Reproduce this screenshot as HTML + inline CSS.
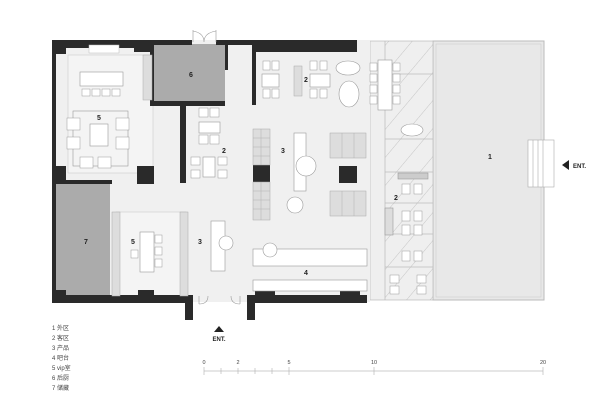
<!DOCTYPE html>
<html><head><meta charset="utf-8"><style>
body{margin:0;background:#fff;width:600px;height:403px;overflow:hidden}
svg{display:block}
text{font-family:"Liberation Sans","Noto Sans CJK SC",sans-serif}
</style></head><body>
<svg width="600" height="403" viewBox="0 0 600 403" xmlns="http://www.w3.org/2000/svg">
<defs>
<pattern id="h" width="18" height="18" patternUnits="userSpaceOnUse" patternTransform="rotate(40)">
<line x1="0" y1="0" x2="0" y2="18" stroke="#aaa" stroke-width="0.6"/></pattern>
</defs>
<rect x="433" y="41" width="111" height="259" fill="#e8e8e8" stroke="#bbb" stroke-width="1"/>
<rect x="436" y="44" width="105" height="253" fill="none" stroke="#ccc" stroke-width="0.6"/>
<rect x="370" y="41" width="63" height="259" fill="#efefef" stroke="#bbb" stroke-width="0.7"/>
<rect x="385" y="41" width="48" height="259" fill="url(#h)"/>
<line x1="385" y1="41" x2="385" y2="300" stroke="#bbb" stroke-width="0.7"/>
<g stroke="#bbb" stroke-width="0.7">
<line x1="385" y1="139" x2="433" y2="139"/><line x1="385" y1="172" x2="433" y2="172"/>
<line x1="385" y1="203" x2="433" y2="203"/><line x1="385" y1="234" x2="433" y2="234"/>
<line x1="385" y1="267" x2="433" y2="267"/><line x1="385" y1="74" x2="433" y2="74"/>
</g>
<rect x="52" y="40" width="318" height="262" fill="#f0f0f0"/>
<rect x="153" y="44" width="72" height="58" fill="#ababab"/>
<rect x="56" y="183" width="54" height="115" fill="#ababab"/>
<rect x="68" y="55" width="85" height="118" fill="#f4f4f4" stroke="#ccc" stroke-width="0.6"/>
<rect x="116" y="212" width="70" height="84" fill="#f4f4f4" stroke="#ccc" stroke-width="0.6"/>
<g fill="#2a2a2a">
<rect x="52" y="40" width="4" height="263"/>
<rect x="52" y="40" width="100" height="8"/>
<rect x="52" y="40" width="14" height="14"/>
<rect x="134" y="40" width="18" height="12"/>
<rect x="150" y="44" width="4" height="62"/>
<rect x="150" y="40" width="42" height="5"/>
<rect x="216" y="40" width="37" height="5"/>
<rect x="150" y="101" width="75" height="5"/>
<rect x="225" y="40" width="3" height="30"/>
<rect x="252" y="40" width="4" height="65"/>
<rect x="252" y="40" width="105" height="12"/>
<rect x="180" y="103" width="6" height="80"/>
<rect x="52" y="166" width="14" height="18"/>
<rect x="137" y="166" width="17" height="18"/>
<rect x="52" y="180" width="60" height="4"/>
<rect x="52" y="295" width="138" height="8"/>
<rect x="52" y="290" width="14" height="13"/>
<rect x="138" y="290" width="16" height="13"/>
<rect x="185" y="295" width="8" height="25"/>
<rect x="247" y="295" width="8" height="25"/>
<rect x="255" y="295" width="112" height="8"/>
<rect x="255" y="290" width="20" height="13"/>
<rect x="340" y="290" width="20" height="13"/>
<rect x="253" y="165" width="17" height="17"/>
<rect x="339" y="166" width="18" height="17"/>
</g>
<g fill="none" stroke="#999" stroke-width="0.6">
<path d="M193 42 L193 30 M216 42 L216 30 M193 31 Q204 33 204 42 M216 31 Q204 33 204 42"/>
<path d="M199 304 Q208 304 208 296 M240 304 Q231 304 231 296 M199 296 L199 304 M240 296 L240 304"/>
</g>
<rect x="89" y="45" width="30" height="8" fill="#fff" stroke="#bbb" stroke-width="0.5"/>
<g fill="#ddd" stroke="#aaa" stroke-width="0.5">
<rect x="253" y="129" width="17" height="36"/>
<rect x="253" y="182" width="17" height="38"/>
<rect x="180" y="212" width="8" height="84"/>
<rect x="112" y="212" width="8" height="84"/>
<rect x="143" y="55" width="9" height="45"/>
<rect x="330" y="133" width="36" height="25"/>
<rect x="330" y="191" width="36" height="25"/>
<rect x="294" y="66" width="8" height="30"/>
</g>
<g stroke="#aaa" stroke-width="0.4">
<line x1="261" y1="129" x2="261" y2="165"/><line x1="261" y1="182" x2="261" y2="220"/>
<line x1="253" y1="138" x2="270" y2="138"/><line x1="253" y1="147" x2="270" y2="147"/><line x1="253" y1="156" x2="270" y2="156"/>
<line x1="253" y1="191" x2="270" y2="191"/><line x1="253" y1="200" x2="270" y2="200"/><line x1="253" y1="209" x2="270" y2="209"/>
<line x1="342" y1="133" x2="342" y2="158"/><line x1="354" y1="133" x2="354" y2="158"/>
<line x1="342" y1="191" x2="342" y2="216"/><line x1="354" y1="191" x2="354" y2="216"/>
</g>
<g fill="#fff" stroke="#999" stroke-width="0.6">
<rect x="80" y="72" width="43" height="14"/>
<rect x="90" y="124" width="18" height="22"/>
<rect x="73" y="111" width="55" height="55" fill="none"/>
<rect x="294" y="133" width="12" height="58"/>
<circle cx="306" cy="166" r="10"/><circle cx="295" cy="205" r="8"/>
<rect x="211" y="221" width="14" height="50"/>
<circle cx="226" cy="243" r="7"/>
<rect x="253" y="249" width="114" height="17"/>
<circle cx="270" cy="250" r="7"/>
<rect x="253" y="280" width="114" height="11"/>
<rect x="140" y="232" width="14" height="40"/>
<rect x="199" y="122" width="21" height="11"/>
<rect x="203" y="157" width="12" height="20"/>
<rect x="262" y="74" width="17" height="13"/>
<rect x="310" y="74" width="20" height="13"/>
<ellipse cx="348" cy="68" rx="12" ry="7"/>
<ellipse cx="349" cy="94" rx="10" ry="13"/>
<rect x="378" y="60" width="14" height="50"/>
<rect x="398" y="173" width="30" height="6" fill="#ccc"/>
<rect x="385" y="208" width="8" height="27" fill="#ddd"/>
<ellipse cx="412" cy="130" rx="11" ry="6"/>
</g>
<g fill="#fff" stroke="#999" stroke-width="0.5">
<rect x="82" y="89" width="8" height="7"/><rect x="92" y="89" width="8" height="7"/><rect x="102" y="89" width="8" height="7"/><rect x="112" y="89" width="8" height="7"/>
<rect x="67" y="118" width="13" height="12"/><rect x="67" y="137" width="13" height="12"/><rect x="116" y="118" width="13" height="12"/><rect x="116" y="137" width="13" height="12"/>
<rect x="80" y="157" width="13" height="11"/><rect x="98" y="157" width="13" height="11"/>
<rect x="199" y="108" width="9" height="9"/><rect x="210" y="108" width="9" height="9"/><rect x="199" y="135" width="9" height="9"/><rect x="210" y="135" width="9" height="9"/>
<rect x="191" y="157" width="9" height="8"/><rect x="191" y="170" width="9" height="8"/><rect x="218" y="157" width="9" height="8"/><rect x="218" y="170" width="9" height="8"/>
<rect x="263" y="61" width="7" height="9"/><rect x="272" y="61" width="7" height="9"/><rect x="263" y="89" width="7" height="9"/><rect x="272" y="89" width="7" height="9"/>
<rect x="310" y="61" width="7" height="9"/><rect x="320" y="61" width="7" height="9"/><rect x="310" y="89" width="7" height="9"/><rect x="320" y="89" width="7" height="9"/>
<rect x="155" y="235" width="7" height="8"/><rect x="155" y="247" width="7" height="8"/><rect x="155" y="259" width="7" height="8"/><rect x="131" y="250" width="7" height="8"/>
<rect x="370" y="63" width="7" height="8"/><rect x="370" y="74" width="7" height="8"/><rect x="370" y="85" width="7" height="8"/><rect x="370" y="96" width="7" height="8"/>
<rect x="393" y="63" width="7" height="8"/><rect x="393" y="74" width="7" height="8"/><rect x="393" y="85" width="7" height="8"/><rect x="393" y="96" width="7" height="8"/>
<rect x="402" y="184" width="8" height="10"/><rect x="414" y="184" width="8" height="10"/>
<rect x="402" y="211" width="8" height="10"/><rect x="414" y="211" width="8" height="10"/><rect x="402" y="225" width="8" height="10"/><rect x="414" y="225" width="8" height="10"/>
<rect x="402" y="251" width="8" height="10"/><rect x="414" y="251" width="8" height="10"/>
<rect x="390" y="275" width="9" height="8"/><rect x="390" y="286" width="9" height="8"/><rect x="417" y="275" width="9" height="8"/><rect x="417" y="286" width="9" height="8"/>
</g>
<g fill="#fff" stroke="#aaa" stroke-width="0.6">
<rect x="528" y="140" width="26" height="47"/>
<line x1="533" y1="140" x2="533" y2="187"/><line x1="538" y1="140" x2="538" y2="187"/><line x1="543" y1="140" x2="543" y2="187"/>
</g>
<g font-size="7" font-weight="bold" fill="#222" text-anchor="middle">
<text x="191" y="77">6</text><text x="99" y="120">5</text><text x="306" y="82">2</text>
<text x="224" y="153">2</text><text x="283" y="153">3</text><text x="86" y="244">7</text>
<text x="133" y="244">5</text><text x="200" y="244">3</text><text x="306" y="275">4</text>
<text x="490" y="159">1</text><text x="396" y="200">2</text>
</g>
<polygon points="562,165 569,160 569,170" fill="#222"/>
<text x="573" y="168" font-size="6" font-weight="bold" fill="#222">ENT.</text>
<polygon points="219,326 224,332 214,332" fill="#222"/>
<text x="219" y="341" font-size="6" font-weight="bold" fill="#222" text-anchor="middle">ENT.</text>
<g font-size="6" fill="#444">
<text x="52" y="330">1 外区</text><text x="52" y="340">2 客区</text><text x="52" y="350">3 产品</text>
<text x="52" y="360">4 吧台</text><text x="52" y="370">5 vip室</text><text x="52" y="380">6 后厨</text><text x="52" y="390">7 储藏</text>
</g>
<g stroke="#bbb" stroke-width="0.7">
<line x1="204" y1="371" x2="543" y2="371"/>
<line x1="204" y1="367" x2="204" y2="375"/><line x1="221" y1="368" x2="221" y2="374"/>
<line x1="238" y1="368" x2="238" y2="374"/><line x1="255" y1="368" x2="255" y2="374"/>
<line x1="272" y1="368" x2="272" y2="374"/><line x1="289" y1="367" x2="289" y2="375"/>
<line x1="374" y1="367" x2="374" y2="375"/><line x1="543" y1="367" x2="543" y2="375"/>
</g>
<g font-size="5.5" fill="#444" text-anchor="middle">
<text x="204" y="364">0</text><text x="238" y="364">2</text><text x="289" y="364">5</text>
<text x="374" y="364">10</text><text x="543" y="364">20</text>
</g>
</svg>
</body></html>
